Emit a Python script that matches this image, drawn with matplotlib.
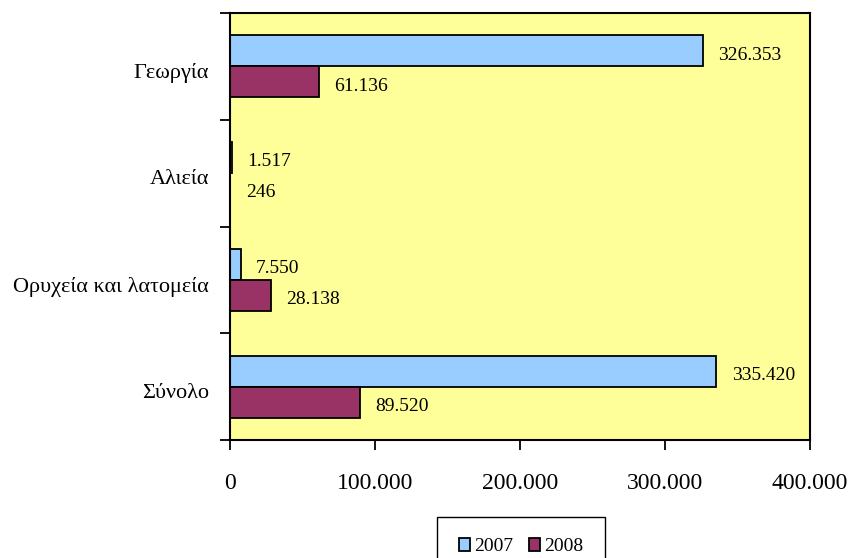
import matplotlib
matplotlib.use("Agg")
import matplotlib.pyplot as plt
import numpy as np
from matplotlib.ticker import FuncFormatter, FixedLocator

plt.rcParams['font.family'] = ['Liberation Serif', 'DejaVu Serif']

categories = ['Γεωργία', 'Αλιεία', 'Ορυχεία και λατομεία', 'Σύνολο']
v2007 = [326353, 1517, 7550, 335420]
v2008 = [61136, 246, 28138, 89520]
series_names = ['2007', '2008']


def fmt(v):
    return f"{v:,.0f}".replace(',', '.')


fig = plt.figure(figsize=(8.53, 5.58), dpi=100)
ax = fig.add_axes([230/853, 1-440/558, 580/853, 427/558])
ax.set_facecolor('#FFFF99')

y = np.arange(len(categories))
h = 0.29
b1 = ax.barh(y - h/2, v2007, height=h, color='#99CCFF', edgecolor='black', linewidth=1.3, label=series_names[0])
b2 = ax.barh(y + h/2, v2008, height=h, color='#993366', edgecolor='black', linewidth=1.3, label=series_names[1])
for pos, vals in [(y - h/2, v2007), (y + h/2, v2008)]:
    for yy, v in zip(pos, vals):
        ax.annotate(fmt(v), (v, yy), xytext=(11, -3), textcoords='offset points',
                    va='center', ha='left', fontsize=14)

ax.set_ylim(len(categories) - 0.5, -0.5)
ax.set_xlim(0, 400000)
# labels sit a little below the category centre, as in the original
ax.set_yticks(y + 0.04)
ax.set_yticklabels(categories, fontsize=16)
ax.yaxis.set_minor_locator(FixedLocator(np.arange(-0.5, len(categories), 1)))
ax.tick_params(axis='y', which='major', length=0, pad=15)
ax.tick_params(axis='y', which='minor', length=7, width=1.3, direction='out')
ax.set_xticks([0, 100000, 200000, 300000, 400000])
ax.xaxis.set_major_formatter(FuncFormatter(lambda v, p: fmt(v)))
ax.tick_params(axis='x', length=7, width=1.3, direction='out', pad=17, labelsize=17)
for s in ax.spines.values():
    s.set_linewidth(1.5)
    s.set_color('black')

fig.legend(handles=[b1, b2], labels=series_names, loc='upper center',
           bbox_to_anchor=(521/853, 1-517/558), ncol=2, fontsize=14,
           frameon=True, fancybox=False, edgecolor='black', framealpha=1,
           handlelength=0.6, handleheight=0.6, handletextpad=0.2,
           columnspacing=0.8, borderpad=1.1, borderaxespad=0)

fig.savefig('out.png', dpi=100)
